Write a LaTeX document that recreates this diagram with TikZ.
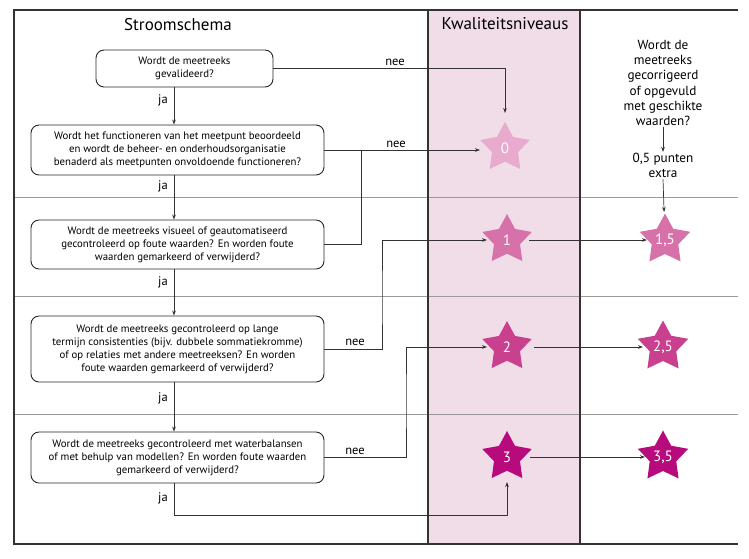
\documentclass[tikz,border=0pt]{standalone}
\usepackage{fontspec}
\setmainfont{PT Sans}
\usetikzlibrary{shapes.geometric,arrows.meta}
\definecolor{colfill}{HTML}{F0DDE8}
\definecolor{st0}{HTML}{E8AACD}
\definecolor{st1}{HTML}{D672A9}
\definecolor{st2}{HTML}{C8408E}
\definecolor{st3}{HTML}{B70A7C}
\definecolor{sepgray}{HTML}{9A9A9A}
\definecolor{conn}{HTML}{333333}
\tikzset{
  box/.style={draw=black!85, line width=0.9pt, rounded corners=8pt, align=center, inner sep=0pt,
    font=\fontsize{10.8}{13}\selectfont},
  lbl/.style={font=\fontsize{12.5}{13}\selectfont, inner sep=1pt},
  conline/.style={draw=conn, line width=0.7pt},
  arr/.style={conline, -{Stealth[length=5pt,width=3.6pt]}},
  starnode/.style={star, star points=5, star point ratio=1.9, minimum size=52pt, inner sep=0pt,
    text=white, font=\fontsize{15}{15}\selectfont},
  framel/.style={draw=black!80, line width=1.3pt},
  sepl/.style={draw=sepgray, line width=0.7pt},
  title/.style={font=\fontsize{17}{18}\selectfont},
  side/.style={align=center, font=\fontsize{13.2}{15.2}\selectfont, inner sep=1pt}
}
\begin{document}
\begin{tikzpicture}[x=1pt,y=-1pt]
\useasboundingbox (0,0) rectangle (749,558);
% column background
\fill[colfill] (428,10) rectangle (580,544);
% separators
\draw[sepl] (14,197) -- (738,197);
\draw[sepl] (14,296) -- (738,296);
\draw[sepl] (14,414) -- (738,414);
% frame
\draw[framel] (738,10) -- (14,10) -- (14,544) -- (738,544);
\draw[framel] (428,10) -- (428,544);
\draw[framel] (580,10) -- (580,544);
% titles
\node[title] (t1) at (178,25) {Stroomschema};
\node[title] (t2) at (505,24) {Kwaliteitsniveaus};
% boxes
\node[box, minimum width=177pt, minimum height=37pt] (b1) at (184.5,68.5)
  {Wordt de meetreeks\\gevalideerd?};
\node[box, minimum width=293pt, minimum height=50pt] (b2) at (177.5,150)
  {Wordt het functioneren van het meetpunt beoordeeld\\en wordt de beheer- en onderhoudsorganisatie\\benaderd als meetpunten onvoldoende functioneren?};
\node[box, minimum width=293pt, minimum height=49pt] (b3) at (177.5,244.5)
  {Wordt de meetreeks visueel of geautomatiseerd\\gecontroleerd op foute waarden? En worden foute\\waarden gemarkeerd of verwijderd?};
\node[box, minimum width=293pt, minimum height=66pt] (b4) at (177.5,349)
  {Wordt de meetreeks gecontroleerd op lange\\termijn consistenties (bijv. dubbele sommatiekromme)\\of op relaties met andere meetreeksen? En worden\\foute waarden gemarkeerd of verwijderd?};
\node[box, minimum width=293pt, minimum height=51pt] (b5) at (177.5,457.5)
  {Wordt de meetreeks gecontroleerd met waterbalansen\\of met behulp van modellen? En worden foute waarden\\gemarkeerd of verwijderd?};
% stars
\node[starnode, fill=st0] (s0) at (505,148) {0};
\node[starnode, fill=st1] (s1) at (507,240) {1};
\node[starnode, fill=st2] (s2) at (507,347) {2};
\node[starnode, fill=st3] (s3) at (507,457) {3};
\node[starnode, fill=st1] (s15) at (665,240) {1,5};
\node[starnode, fill=st2] (s25) at (663,347) {2,5};
\node[starnode, fill=st3] (s35) at (663,457) {3,5};
% side text
\node[side] (q) at (663,83) {Wordt de\\meetreeks\\gecorrigeerd\\of opgevuld\\met geschikte\\waarden?};
\node[side] (p) at (663,165.5) {0,5 punten\\extra};
% helper coordinates
\coordinate (spine) at (174,0);
\coordinate (j1) at (361,150);
\coordinate (k1) at (382,300);
\coordinate (k2) at (406,400);
\coordinate (k3) at (507,515);
% ja connectors
\draw[arr] (b1.south -| spine) -- (b2.north -| spine);
\draw[arr] (b2.south -| spine) -- (b3.north -| spine);
\draw[arr] (b3.south -| spine) -- (b4.north -| spine);
\draw[arr] (b4.south -| spine) -- (b5.north -| spine);
\draw[arr, shorten >=25pt] (b5.south -| spine) |- (k3) -- (s3.center);
\node[lbl] (ja1) at (163,100) {ja};
\node[lbl] (ja2) at (163,186) {ja};
\node[lbl] (ja3) at (163,282) {ja};
\node[lbl] (ja4) at (163,398) {ja};
\node[lbl] (ja5) at (163,498) {ja};
% nee connectors
\draw[arr, shorten >=35pt] (b1.east) -| (s0.center);
\draw[arr, shorten >=25pt] (b2.east) -- (b2.east -| s0.center);
\draw[conline] (b3.east) -| (j1);
\draw[arr, shorten >=20pt] (b4.east) -| (k1) |- (s1.center);
\draw[arr, shorten >=20pt] (b5.east) -| (k2) |- (s2.center);
\node[lbl] (n1) at (395,62) {nee};
\node[lbl] (n2) at (396,144) {nee};
\node[lbl] (n3) at (355,342) {nee};
\node[lbl] (n4) at (355,451) {nee};
% level arrows
\draw[arr, shorten <=22pt, shorten >=18pt] (s1.center) -- (s15.center);
\draw[arr, shorten <=27pt, shorten >=20pt] (s2.center) -- (s25.center);
\draw[arr, shorten <=23pt, shorten >=18pt] (s3.center) -- (s35.center);
% side arrows
\draw[arr] (q.south) -- (p.north);
\draw[arr, shorten >=28pt] (p.south) -- (s15.center);
\end{tikzpicture}
\end{document}
